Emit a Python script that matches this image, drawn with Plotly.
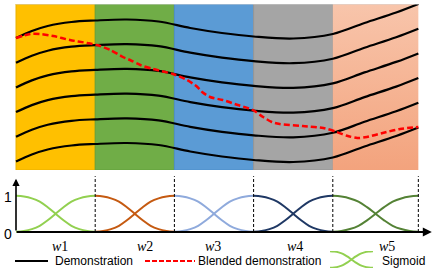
import plotly.graph_objects as go

# ---------------- data ----------------
segment_names = ["w1", "w2", "w3", "w4", "w5"]
segment_edges = [0.0, 1.0, 2.0, 3.0, 4.0, 5.08]
band_colors = ["#FFC000", "#70AD47", "#5B9BD5", "#A5A5A5", None]
band_edge_colors = ["#E8B000", "#62A03C", "#4F8FCB", "#959595", None]
salmon_top, salmon_bottom = "#F8C5AB", "#F3A37D"
sigmoid_colors = ["#92D050", "#C55A11", "#8FAADC", "#1F3864", "#548235"]

# demonstrations (top panel), position vs. time
demo_t = [0.0, 0.2, 0.4, 0.7, 1.0, 1.4, 1.8, 2.2, 2.6, 3.0, 3.5, 4.0, 4.4, 4.8, 5.08]
demo_1 = [132, 139, 144, 148, 149.5, 150.5, 148.5, 142, 137, 133.5, 131.5, 136, 147, 157.5, 166]
demo_2 = [107.3, 114.3, 119.3, 123.3, 124.8, 125.8, 123.8, 117.3, 112.3, 108.8, 106.8, 111.3, 122.3, 132.8, 141.3]
demo_3 = [82.6, 89.6, 94.6, 98.6, 100.1, 101.1, 99.1, 92.6, 87.6, 84.1, 82.1, 86.6, 97.6, 108.1, 116.6]
demo_4 = [57.9, 64.9, 69.9, 73.9, 75.4, 76.4, 74.4, 67.9, 62.9, 59.4, 57.4, 61.9, 72.9, 83.4, 91.9]
demo_5 = [33.2, 40.2, 45.2, 49.2, 50.7, 51.7, 49.7, 43.2, 38.2, 34.7, 32.7, 37.2, 48.2, 58.7, 67.2]
demo_6 = [8.5, 15.5, 20.5, 24.5, 26, 27, 25, 18.5, 13.5, 10, 8, 12.5, 23.5, 34, 42.5]
demos = [demo_1, demo_2, demo_3, demo_4, demo_5, demo_6]

# blended demonstration
blend_t = [0.0, 0.18, 0.30, 0.47, 0.68, 0.90, 1.02, 1.19, 1.35, 1.44, 1.57, 1.73, 1.98, 2.16,
           2.29, 2.35, 2.45, 2.61, 2.80, 2.99, 3.12, 3.23, 3.33, 3.62, 3.88, 4.05, 4.19, 4.31,
           4.43, 4.63, 4.85, 5.08]
blend_y = [132, 136, 136, 134, 130, 127, 125, 120, 113, 110, 105, 101, 96, 90,
           83, 78, 73, 70, 65, 60, 53, 48, 46, 44, 42, 38, 34, 32,
           33, 37, 41, 43]

# sigmoid weights within a segment (fraction of segment)
sig_t = [0.0, 0.1, 0.2, 0.3, 0.4, 0.5, 0.6, 0.7, 0.8, 0.9, 1.0]
sig_rise = [0.01, 0.03, 0.08, 0.17, 0.32, 0.5, 0.68, 0.83, 0.92, 0.97, 0.99]
sig_fall = [0.99, 0.97, 0.92, 0.83, 0.68, 0.5, 0.32, 0.17, 0.08, 0.03, 0.01]

weight_ticks = ["0", "1"]
legend_labels = ["Demonstration", "Blended demonstration", "Sigmoid"]

# ---------------- layout constants ----------------
W, H = 436, 272
X_RANGE = [-16 / 79.2, 420 / 79.2]
label_x = [0.556, 1.629, 2.487, 3.523, 4.684]

fig = go.Figure()

# salmon band with vertical gradient
a, b = segment_edges[4], segment_edges[5]
fig.add_trace(go.Scatter(
    x=[a, b, b, a, a], y=[0, 0, 166, 166, 0], xaxis="x", yaxis="y",
    mode="lines", line=dict(width=0), fill="toself",
    fillgradient=dict(type="vertical", colorscale=[[0, salmon_bottom], [1, salmon_top]]),
    hoverinfo="skip"))

shapes = []
for i in range(4):
    shapes.append(dict(type="rect", xref="x", yref="y", x0=segment_edges[i], x1=segment_edges[i + 1],
                       y0=0, y1=166, fillcolor=band_colors[i],
                       line=dict(color=band_edge_colors[i], width=1), layer="below"))
# light top border
shapes.append(dict(type="line", xref="x", yref="y", x0=segment_edges[0], x1=segment_edges[-1],
                   y0=166, y1=166, line=dict(color="#D6D6D6", width=1)))

for d in demos:
    fig.add_trace(go.Scatter(x=demo_t, y=d, xaxis="x", yaxis="y", mode="lines",
                             line=dict(color="black", width=2.2, shape="spline", smoothing=1.0),
                             hoverinfo="skip"))

fig.add_trace(go.Scatter(x=blend_t, y=blend_y, xaxis="x", yaxis="y", mode="lines",
                         line=dict(color="#FF0000", width=2.5, dash="6px,3px", shape="spline", smoothing=0.8),
                         hoverinfo="skip"))

# bottom panel sigmoids
for i in range(5):
    a, b = segment_edges[i], segment_edges[i + 1]
    xs = [a + t * (b - a) for t in sig_t]
    for vals in (sig_fall, sig_rise):
        fig.add_trace(go.Scatter(x=xs, y=vals, xaxis="x2", yaxis="y2", mode="lines",
                                 line=dict(color=sigmoid_colors[i], width=2, shape="spline"),
                                 hoverinfo="skip"))
    shapes.append(dict(type="line", xref="x2", yref="y2", x0=b, x1=b, y0=0, y1=1.53,
                       line=dict(color="black", width=1, dash="3px,2px")))

# legend sigmoid icon
for vals in (sig_fall, sig_rise):
    fig.add_trace(go.Scatter(x=sig_t, y=vals, xaxis="x3", yaxis="y3", mode="lines",
                             line=dict(color="#92D050", width=2, shape="spline"), hoverinfo="skip"))

# legend line keys
shapes.append(dict(type="line", xref="paper", yref="paper", x0=15 / W, x1=48 / W,
                   y0=(H - 261) / H, y1=(H - 261) / H, line=dict(color="black", width=2)))
shapes.append(dict(type="line", xref="paper", yref="paper", x0=145 / W, x1=195 / W,
                   y0=(H - 261) / H, y1=(H - 261) / H, line=dict(color="#FF0000", width=2, dash="5px,2px")))

annotations = []
# axes arrows
annotations.append(dict(x=0, y=1.46, ax=0, ay=0, xref="x2", yref="y2", axref="x2", ayref="y2",
                        text="", showarrow=True, arrowhead=2, arrowsize=0.9, arrowwidth=1.6,
                        arrowcolor="black", standoff=0, startstandoff=0))
annotations.append(dict(x=5.25, y=0, ax=-0.01, ay=0, xref="x2", yref="y2", axref="x2", ayref="y2",
                        text="", showarrow=True, arrowhead=2, arrowsize=0.9, arrowwidth=2,
                        arrowcolor="black", standoff=0, startstandoff=0))
for val, txt in zip([0, 1], weight_ticks):
    annotations.append(dict(x=-0.1, y=val, xref="x2", yref="y2", text=txt, showarrow=False,
                            xanchor="center", yanchor="middle", yshift=-2,
                            font=dict(family="Liberation Sans, Arial", size=14, color="black")))
for lx, name in zip(label_x, segment_names):
    annotations.append(dict(x=lx, y=(H - 246) / H, xref="x2", yref="paper",
                            text="<i>%s</i>%s" % (name[0], name[1:]), showarrow=False,
                            xanchor="center", yanchor="middle",
                            font=dict(family="Liberation Serif, Times New Roman", size=14, color="black")))
for lx, txt in zip([53, 196, 380], legend_labels):
    annotations.append(dict(x=lx / W, y=(H - 261) / H, xref="paper", yref="paper", text=txt,
                            showarrow=False, xanchor="left", yanchor="middle",
                            font=dict(family="Liberation Sans, Arial", size=12, color="black")))

hidden = dict(visible=False, showgrid=False, zeroline=False)
fig.update_layout(
    width=W, height=H, margin=dict(l=0, r=0, t=0, b=0),
    paper_bgcolor="white", plot_bgcolor="rgba(0,0,0,0)", showlegend=False,
    xaxis=dict(domain=[0, 1], range=X_RANGE, **hidden),
    yaxis=dict(domain=[102 / H, 268 / H], range=[0, 166], **hidden),
    xaxis2=dict(domain=[0, 1], range=X_RANGE, anchor="y2", **hidden),
    yaxis2=dict(domain=[32 / H, 96 / H], range=[-8 / 36.5, 56 / 36.5], anchor="x2", **hidden),
    xaxis3=dict(domain=[330 / W, 373 / W], range=[0, 1], anchor="y3", **hidden),
    yaxis3=dict(domain=[4 / H, 21 / H], range=[0, 1], anchor="x3", **hidden),
    shapes=shapes, annotations=annotations,
)
fig.write_html("out.html", config={"displayModeBar": False, "staticPlot": True},
               post_script="document.body.style.margin='0px';")
